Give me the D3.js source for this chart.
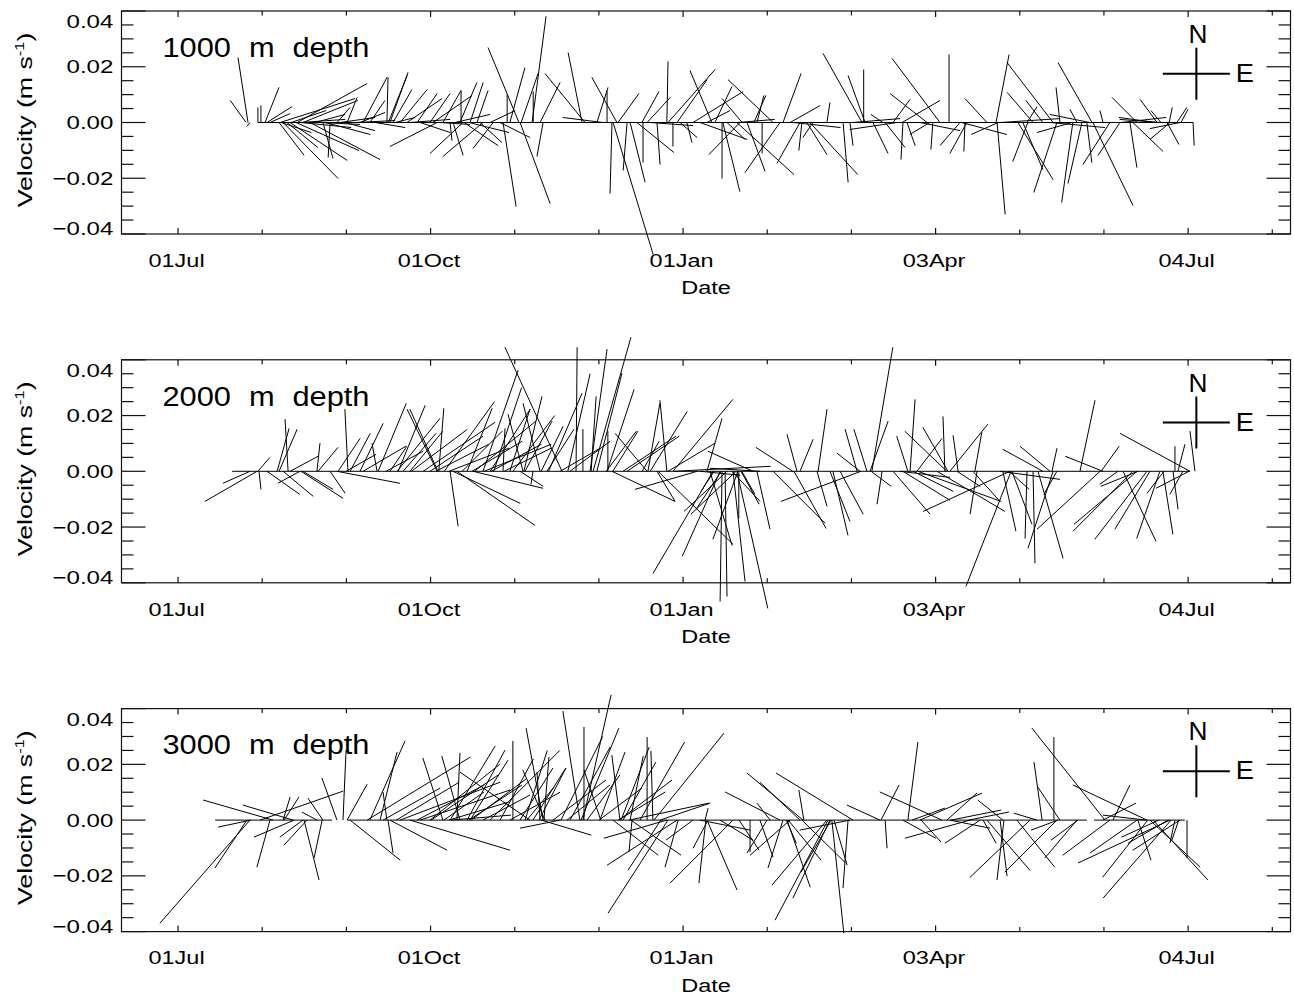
<!DOCTYPE html>
<html><head><meta charset="utf-8">
<script src="https://cdn.jsdelivr.net/npm/d3@7"></script>
<style>html,body{margin:0;padding:0;background:#fff;}svg{display:block;}</style>
</head><body><svg id="c" width="1294" height="994"></svg>
<script>
// ---------- DATA (day = days since 01 Jul; u,v in mm/s) ----------
const tickDays=[0,92,184,276,368];
const tickLabels=["01Jul","01Oct","01Jan","03Apr","04Jul"];
const yTickValues=[-0.04,-0.02,0,0.02,0.04];
const yTickLabels=["\u22120.04","\u22120.02","0.00","0.02","0.04"];
const depthLabels=["1000 m depth","2000 m depth","3000 m depth"];

const d1Day=[24.8,25.5,26.2,29.1,30.2,31.7,32.4,33.5,37.2,43.4,45.5,36.8,38.3,39.7,40.8,43.0,48.1,52.8,55.4,94.4,57.9,61.6,67.4,69.9,76.1,76.6,77.2,78.3,80.9,83.4,87.1,91.8,92.9,96.5,102.7,103.1,106.4,108.9,103.8,111.1,99.1,100.2,104.2,114.8,110.0,124.2,124.6,118.4,119.9,120.9,125.0,129.0,129.4,131.9,133.0,44.4,51.7,59.0,64.5,84.5,95.4,
147.2,148.3,159.9,152.6,156.3,154.8,158.1,158.5,160.3,163.6,164.7,167.2,169.0,169.4,170.9,174.5,178.1,178.5,181.8,180.3,182.9,185.4,194.5,187.6,192.7,204.7,198.2,198.5,200.0,205.5,216.8,195.6,210.9,203.6,207.3,212.8,219.3,226.6,220.4,223.0,227.3,229.1,230.2,236.4,249.2,250.3,249.8,242.3,244.8,253.2,257.6,
277.6,272.9,263.8,260.5,280.9,264.1,265.6,275.0,284.9,287.4,286.7,294.7,298.4,298.0,318.8,311.5,315.1,309.3,306.0,307.8,309.6,320.2,321.3,333.0,326.0,329.3,331.1,333.3,339.5,343.2,337.0,349.4,346.8,347.9,356.7,361.4,363.9,369.8,360.3,270.3,285.5,299.5,317.7,343.6,357.7,365.0,
37.6,41.2,44.8,49.9,53.6,60.8,66.3,71.8,79.1,88.2,100.9,106.0,113.7,117.3,172.0,190.2,203.9,224.2,245.9,261.9,209.8,231.3,256.8,298.8,325.7,332.2,327.5,356.3,358.1,361.1,365.4,273.9];
const d1U=[-5.7,-3.6,-1.1,0,0,5.0,9.0,7.2,26.9,25.1,19.7,9.0,19.7,11.1,20.5,22.6,25.1,3.6,-0.7,-16.9,4.7,3.6,8.6,5.4,0.4,6.8,6.5,6.8,9.7,12.6,7.2,7.2,14.0,6.5,6.1,0,4.7,4.0,-11.8,-14.4,0.7,3.6,12.2,-7.2,7.9,-11.1,10.8,4.7,0,5.4,6.1,5.0,0,7.2,-2.2,16.2,14.4,12.6,14.4,14.4,10.8,
-5.0,-14.4,-9.0,4.0,0,-14.4,-0.7,14.4,7.5,-1.4,5.4,13.3,6.1,0,8.3,1.1,0.4,16.9,10.8,0,6.1,1.8,-7.9,18.0,8.3,-11.1,0,6.1,6.5,-7.2,-16.2,6.1,2.5,20.5,6.5,0,-12.6,-8.3,6.5,10.8,-1.1,7.2,17.2,1.1,-14.0,-6.1,0,1.8,1.1,5.4,7.2,
-17.2,-13.3,13.6,6.1,0,-0.7,2.9,-0.7,-7.2,-6.1,-0.4,-7.9,2.9,4.7,-16.5,-9.3,-6.1,3.6,12.6,7.2,-5.4,-8.3,-1.4,-12.2,-4.0,-5.0,1.8,14.4,-9.7,-7.9,-1.1,-9.0,2.5,10.8,-6.1,-7.2,3.6,0.4,4.3,14.4,16.2,21.5,19.7,16.2,-14.4,-10.8,
10.8,12.6,18.0,10.8,16.2,10.8,9.0,10.8,7.2,10.8,12.6,14.4,9.0,10.8,15.4,16.9,13.3,16.9,16.9,-16.9,4.3,-3.6,-4.3,-9.7,-12.6,-14.4,-2.5,-13.3,-3.6,1.1,2.5,-7.2];
const d1V=[7.9,23.3,-1.4,5.4,6.1,12.6,5.7,3.2,8.6,14.0,7.9,-11.8,-20.1,-9.0,-13.6,-10.1,-13.3,-12.9,-12.6,-8.6,5.4,9.0,16.2,7.9,16.2,16.9,18.0,11.8,11.8,8.6,10.4,10.4,9.7,11.5,14.4,11.5,14.4,11.5,-11.1,-12.2,-6.5,-11.8,-8.3,-9.3,-7.2,26.9,-29.1,-30.2,10.1,19.7,17.6,38.1,11.1,14.4,-12.2,1.1,-0.7,1.8,0.7,1.1,-0.7,
25.1,17.6,16.2,12.6,11.5,1.8,-25.5,-47.4,10.4,-17.2,-21.5,-10.8,11.1,-14.4,9.0,-15.1,21.9,19.0,15.4,-8.6,-5.4,-7.2,18.7,11.1,4.3,-11.5,-20.1,-24.8,-6.1,8.6,15.4,12.9,9.7,-18.7,-17.6,-11.1,-18.0,-14.7,17.6,6.1,-10.1,-11.5,-18.7,7.2,24.8,16.9,19.0,-21.5,-8.3,-11.1,-9.0,
23.0,10.4,7.9,8.3,24.4,-13.3,-8.3,-9.7,-8.3,-11.1,-10.4,8.6,-33.0,24.4,21.5,10.8,7.9,5.7,-20.5,-16.9,-14.0,-25.1,12.6,21.5,-28.7,-21.9,-14.4,-29.8,-15.1,-11.8,4.3,9.0,-16.2,-10.4,8.3,-6.1,5.4,-8.3,-7.9,-2.9,-4.3,1.4,-1.8,1.8,1.1,-2.2,
-3.6,4.3,-1.8,2.9,-4.3,-2.9,3.6,-1.8,1.8,-3.6,2.9,-3.6,4.3,-5.4,-1.1,-6.1,1.1,-1.8,1.4,-2.5,9.7,-5.4,2.9,-4.3,-3.6,2.9,4.7,1.8,4.3,5.4,4.7,-4.3];
const d1Base=[[29.1,369.8]];

const d2Day=[28.8,26.2,29.1,29.5,32.4,36.1,36.8,40.1,44.4,40.8,38.3,44.8,45.5,50.6,51.0,55.4,61.9,57.9,58.3,62.7,66.3,72.5,72.9,77.2,79.8,94.4,94.7,80.2,95.0,82.0,89.3,91.8,99.1,100.2,101.6,107.5,105.3,111.1,139.9,118.4,125.7,131.9,126.0,129.3,113.7,111.5,
145.0,150.1,151.2,152.6,150.5,156.3,132.3,147.5,156.6,170.9,156.0,178.1,171.2,172.0,163.6,180.3,192.7,178.5,224.0,209.5,225.5,226.6,233.2,247.4,251.0,248.5,194.9,197.5,198.2,199.3,202.2,203.6,204.0,193.8,200.0,203.3,204.3,210.9,205.1,189.1,174.5,158.1,174.9,248.8,216.8,224.4,232.8,238.6,237.5,241.2,
252.8,252.1,256.5,265.9,266.7,280.1,280.5,269.2,279.4,284.2,281.2,290.3,260.5,264.1,303.1,269.6,276.5,291.1,303.5,300.5,303.8,309.3,311.5,318.8,335.9,313.3,315.1,317.7,318.4,328.6,337.0,336.3,368.7,349.4,347.9,353.0,354.1,357.7,344.3,358.8,362.5,368.3,363.2,364.3,370.5,349.7,
190.2,212.0,263.0,299.5,85,97,108,115,122,135,142,
61.2,67.4,75.8,84.5,93.9,98.7,103.5,107.1,114.1,118.8,120.9,124.6,126.4,134.4,139.2,142.8,158.4,162.1,169.1,180.6,195.3,197.9,201.8,205.4,252.5,267.8,283.8,289.6,302.8,320.2,342.4,359.2,366.1];
const d2U=[-18.7,-9.7,4.3,0.7,11.8,4.3,6.5,-1.1,-7.9,10.1,10.8,15.1,10.8,1.1,7.2,5.4,-1.1,22.6,7.9,7.2,8.3,-1.8,10.1,6.1,15.4,-10.8,-10.1,9.7,1.8,11.8,25.8,19.0,2.9,24.1,28.0,25.1,9.0,12.6,-20.5,0.7,-5.4,-6.1,6.5,-0.7,14.4,24.1,
0.4,6.1,13.6,9.0,1.8,9.7,7.9,0,0,-11.5,10.8,-2.5,4.3,13.3,18.7,21.5,5.4,16.9,-13.3,-16.2,-3.6,4.7,3.2,-4.3,-4.7,-8.3,-21.5,-13.6,-0.7,0.7,4.3,11.1,-9.0,7.9,-15.4,-16.2,0,4.7,6.5,-22.3,6.5,22.6,26.9,-28.7,18.7,11.5,3.6,5.4,7.2,8.3,
7.5,6.5,-1.8,-4.0,1.8,-15.1,-9.0,9.0,-0.7,-1.8,13.6,2.5,13.3,16.9,-31.2,29.8,24.4,-2.5,-16.2,4.7,7.2,-0.7,0.7,-9.0,-22.6,9.0,-14.4,-10.8,1.8,5.4,-13.6,6.5,-25.1,-22.6,-21.5,-18.7,-12.6,-8.3,11.8,3.6,1.8,-11.8,0,2.5,-1.8,-13.3,
14.4,-18.0,18.0,21.5,20,18,22,10,15,12,8,
10.8,15.4,13.3,11.8,19.0,21.5,14.4,18.0,18.0,16.9,7.2,8.3,9.7,9.7,14.4,14.4,9.0,19.0,6.1,34.8,-4.7,-9.0,10.1,4.7,7.2,14.4,8.3,9.7,7.2,-4.7,-6.5,-6.1,-4.7];
const d2V=[-10.8,-4.3,5.0,-6.5,-8.3,15.4,15.1,18.7,-4.3,5.4,-9.0,-9.7,-6.5,10.1,8.6,-7.9,22.3,-4.3,11.8,13.6,17.2,10.1,24.4,9.0,19.0,22.3,22.3,23.7,22.6,13.6,17.6,12.6,-19.7,-11.5,-19.4,-6.1,22.6,36.3,44.5,15.4,20.5,24.4,26.9,-4.7,22.3,9.7,
44.5,43.8,48.1,35.2,26.9,29.4,16.2,15.1,14.4,13.6,14.4,25.5,24.4,21.5,12.6,25.8,19.0,10.1,8.6,7.2,13.3,11.5,22.3,15.1,15.1,6.5,-36.6,-30.5,-46.7,-44.9,-39.5,-49.2,-24.4,-26.6,-14.4,-15.4,-16.9,-20.8,-11.8,-6.5,-10.8,-10.8,-26.2,-10.8,-18.7,-20.5,-12.6,-23.0,-18.0,-15.4,
44.5,18.0,-11.8,12.6,25.8,14.4,15.8,11.8,19.7,12.9,16.9,14.0,-15.4,-10.4,-14.4,-10.8,-14.4,-15.4,-41.3,-21.5,-19.0,-24.1,-33.0,-27.6,-20.8,-31.2,7.9,9.0,8.3,25.5,5.4,9.0,13.6,-19.0,-21.5,-24.4,-20.8,-24.1,-25.1,-22.6,-13.6,-6.1,9.0,9.7,14.4,-5.4,
-1.4,1.1,-2.2,-2.9,15,25,18,30,20,28,35,
6.1,9.0,7.2,14.4,9.7,8.3,14.4,10.8,9.7,8.3,22.3,-5.4,18.0,15.1,8.3,10.8,14.4,12.6,10.8,1.8,-7.2,-13.6,-10.8,-8.3,-5.4,-7.2,-5.4,-10.8,-6.5,-8.3,-4.7,-7.9,-8.3];
const d2Base=[[19.7,368.7]];

const d3Day=[26.2,25.1,34.6,41.9,26.6,33.5,42.3,45.5,47.0,38.3,38.6,29.9,50.6,52.8,52.5,45.9,57.9,60.1,61.6,62.7,76.1,76.5,69.9,73.6,77.2,84.5,96.5,102.7,101.6,68.9,99.1,105.3,122.0,106.4,128.2,80.9,88.2,
133.0,146.4,147.9,147.5,146.8,142.8,133.3,124.6,129.3,131.9,161.0,153.7,170.9,173.0,161.4,162.1,164.7,160.7,173.4,175.6,132.3,178.1,181.8,178.5,175.9,165.4,158.5,165.0,182.2,202.2,192.0,192.3,192.7,193.1,219.3,227.7,226.6,245.9,228.0,215.7,255.7,223.0,214.6,220.4,236.4,236.8,237.5,221.9,237.9,238.2,244.1,239.0,222.3,
265.9,256.1,278.3,257.6,270.3,280.1,300.5,288.5,270.7,292.2,310.4,300.9,299.5,320.2,294.7,305.6,327.5,314.8,319.1,321.3,337.7,353.0,339.5,361.4,353.3,361.8,349.4,340.6,337.0,349.7,354.1,355.2,365.0,367.6,363.2,
99.5,139.2,190.2,244.8,281.2,91.8,106.8,113.7,117.3,120.9,126.4,133.7,139.5,154.0,168.3,
74.7,79.5,87.1,92.2,96.9,98.7,106.0,111.1,127.1,131.5,136.6,141.7,149.0,153.4,160.4,164.3,187.6,197.5,204.4,208.4,212.0,221.6,227.3,264.1,267.4,281.6,288.1,293.3,312.9,320.6,327.9,352.6,357.3,360.7,364.6];
const d3U=[-32.3,-11.5,-25.1,-18.0,-11.8,-4.7,-14.4,-8.3,-8.3,2.5,5.4,29.8,-5.4,-5.4,-2.9,5.4,-5.4,1.1,7.2,18.0,-1.4,1.8,12.6,6.1,20.5,35.9,-7.2,-6.5,1.1,37.0,16.2,13.6,0,13.6,-25.1,35.9,32.3,
-6.1,-6.1,0,10.1,13.6,14.4,1.8,11.8,11.8,-1.1,-2.9,9.0,0,-0.7,10.1,11.8,4.7,19.0,25.1,18.0,18.0,-22.6,-25.1,-21.5,-11.8,-1.1,16.2,18.0,-4.7,-22.6,1.1,-2.5,10.8,-5.4,-19.7,-20.1,-14.4,-27.6,-1.8,-4.7,-11.8,-14.4,-7.2,-5.4,-19.7,-19.0,-13.3,8.3,-10.8,4.3,-1.8,4.7,11.8,
3.6,6.5,-22.3,0.7,22.3,10.8,-9.0,-23.3,7.2,-12.6,-21.5,-2.5,2.5,-18.7,15.4,13.6,-11.5,-2.9,0,-7.9,-26.2,-26.6,-16.9,-33.0,-16.2,-24.4,-16.9,6.1,11.8,4.7,18.0,19.7,-16.9,0,-1.8,
21.5,-14.4,18.0,-18.0,14.4,25,20,25,12,18,8,-8,15,-6,16,
20.5,22.6,24.1,24.1,14.4,21.5,19.0,16.9,9.7,9.7,19.0,15.4,11.8,15.4,16.9,28.7,-9.7,11.8,7.2,0,4.7,3.6,15.4,11.8,11.8,18.0,14.4,4.7,-8.3,-9.7,-9.7,-15.4,-13.3,-14.4,-2.5];
const d3V=[-37.0,-17.2,7.2,5.4,-2.5,-16.9,-6.1,-6.1,-9.0,8.3,8.3,10.4,2.9,7.9,-13.6,-21.5,15.1,25.1,12.9,-14.4,10.1,-11.8,28.4,24.4,-10.8,-10.8,22.3,23.0,24.1,22.6,26.6,25.1,28.4,21.5,17.2,13.6,10.8,
33.0,39.1,33.4,44.9,33.0,26.2,22.6,18.7,18.7,17.2,23.3,24.4,29.8,24.8,26.2,20.8,23.0,14.4,31.2,6.1,-5.4,-6.5,-16.2,-33.4,-18.0,-11.5,-12.6,-12.6,-16.9,-22.6,4.3,-22.6,-25.1,-10.1,10.1,16.9,13.6,16.9,10.8,6.1,5.4,-12.6,-11.8,-17.2,-23.3,-35.9,-28.0,-24.1,-18.7,-40.6,-24.4,-16.2,-14.4,
28.0,12.6,10.1,-10.1,9.7,9.7,7.2,-6.5,-7.9,-8.3,-20.5,-21.5,-20.1,-18.7,-18.0,-16.9,-13.6,20.8,29.8,11.8,33.0,12.6,-12.6,-15.4,-20.5,-28.0,-11.8,12.6,6.1,-14.4,-16.9,-21.5,-10.8,-13.6,-8.3,
1.8,-2.9,-3.6,-3.6,-2.9,20,15,25,22,10,25,18,30,18,28,
11.5,13.6,12.6,16.2,10.1,6.5,12.6,9.0,11.8,18.7,14.4,12.6,16.2,11.5,10.1,6.1,-7.2,-7.2,-10.8,-11.5,-13.3,-8.3,-15.1,-6.5,4.3,3.6,2.9,-8.3,2.5,-3.6,-7.2,1.8,-6.1,-8.3,-7.2];
const d3Base=[[13.5,56.1],[61.6,331.1],[333.7,366.8]];

// ---------- DRAWING ----------
const FONT='"Liberation Sans", Arial, sans-serif';
const svg=d3.select("#c");
const x=d3.scaleLinear().domain([-20.6,405.3]).range([121.5,1290.5]);
const panelTops=[11,359.8,708.6];
const H=223;
const panels=[
  {day:d1Day,u:d1U,v:d1V,base:d1Base},
  {day:d2Day,u:d2U,v:d2V,base:d2Base},
  {day:d3Day,u:d3U,v:d3V,base:d3Base}
];

function stretchedText(g,str,tx,ty,size,sx,anchor,rot){
  const t=g.append("g").attr("transform",`translate(${tx},${ty}) rotate(${rot||0}) scale(${sx},1)`);
  return t.append("text").attr("x",0).attr("y",0).attr("font-family",FONT)
    .attr("font-size",size).attr("text-anchor",anchor||"start").attr("fill","#000").text(str);
}

panels.forEach((p,i)=>{
  const top=panelTops[i];
  const y=d3.scaleLinear().domain([-0.04,0.04]).range([top+H,top]);
  const g=svg.append("g");
  const [xl,xr]=x.range();
  const y0=y(0);

  // baseline
  p.base.forEach(b=>{
    g.append("line").attr("x1",x(b[0])).attr("x2",x(b[1])).attr("y1",y0).attr("y2",y0)
      .attr("stroke","#000").attr("stroke-width",1);
  });

  // sticks: horizontal component drawn with the same pixel scale as the vertical
  const n=Math.min(p.day.length,p.u.length,p.v.length);
  const sticks=d3.range(n).map(k=>({d:p.day[k],u:p.u[k],v:p.v[k]}));
  g.selectAll("line.stick").data(sticks).join("line").attr("class","stick")
    .attr("x1",s=>x(s.d)).attr("y1",y0)
    .attr("x2",s=>x(s.d)+(y(0)-y(s.u/1000)))
    .attr("y2",s=>y(s.v/1000))
    .attr("stroke","#000").attr("stroke-width",1);

  // frame
  g.append("rect").attr("x",xl).attr("y",top).attr("width",xr-xl).attr("height",H)
    .attr("fill","none").attr("stroke","#111").attr("stroke-width",1.2);

  // y ticks
  d3.range(-8,9).map(k=>k*0.005).forEach(v=>{
    const major=yTickValues.some(t=>Math.abs(t-v)<1e-9);
    const len=major?24:12;
    g.append("line").attr("x1",xl).attr("x2",xl+len).attr("y1",y(v)).attr("y2",y(v)).attr("stroke","#111").attr("stroke-width",1.2);
    g.append("line").attr("x1",xr).attr("x2",xr-len).attr("y1",y(v)).attr("y2",y(v)).attr("stroke","#111").attr("stroke-width",1.2);
  });
  yTickValues.forEach((v,k)=>{
    let cy=y(v);
    if(v===0.04) cy+=10.7;
    if(v===-0.04) cy-=5.7;
    stretchedText(g,yTickLabels[k],113.3,cy+6.6,18.5,1.3,"end");
  });

  // x ticks
  d3.range(0,14).map(k=>k*92/3).filter(d=>d>=x.domain()[0]&&d<=x.domain()[1]).forEach((d,k)=>{
    const len=(k%3===0)?6:4.5;
    g.append("line").attr("x1",x(d)).attr("x2",x(d)).attr("y1",top+H).attr("y2",top+H-len).attr("stroke","#111").attr("stroke-width",1.2);
    g.append("line").attr("x1",x(d)).attr("x2",x(d)).attr("y1",top).attr("y2",top+len).attr("stroke","#111").attr("stroke-width",1.2);
  });
  tickDays.forEach((d,k)=>{
    stretchedText(g,tickLabels[k],x(d)-1.5,top+255.7,18.5,1.27,"middle");
  });
  stretchedText(g,"Date",(xl+xr)/2,top+283,18.5,1.27,"middle");

  // y axis title
  const yt=svg.append("g").attr("transform",`translate(31.5,${y0-2.5}) rotate(-90) scale(1.27,1)`);
  const tt=yt.append("text").attr("x",0).attr("y",0).attr("font-family",FONT).attr("font-size",21)
    .attr("text-anchor","middle").attr("fill","#000");
  tt.append("tspan").text("Velocity (m s");
  tt.append("tspan").attr("font-size",13).attr("dy",-8).text("-1");
  tt.append("tspan").attr("dy",8).text(")");

  // depth label
  const dl=stretchedText(g,depthLabels[i],162.5,top+45.7,28,1.1,"start");
  dl.attr("word-spacing",8.5);

  // compass (annotation, positioned with the scales)
  const cx=x(371), cy=y(0.0175);
  const hx=x(371+12.2)-cx, hy=y(0.0175)-y(0.0175+0.00933);
  g.append("line").attr("x1",cx-hx).attr("x2",cx+hx).attr("y1",cy).attr("y2",cy).attr("stroke","#000").attr("stroke-width",2);
  g.append("line").attr("x1",cx).attr("x2",cx).attr("y1",cy-hy).attr("y2",cy+hy).attr("stroke","#000").attr("stroke-width",2);
  stretchedText(g,"N",cx+1.5,top+31.7,25,1.05,"middle");
  stretchedText(g,"E",cx+48.5,top+70.7,26,1.05,"middle");
});
</script>
</body></html>
